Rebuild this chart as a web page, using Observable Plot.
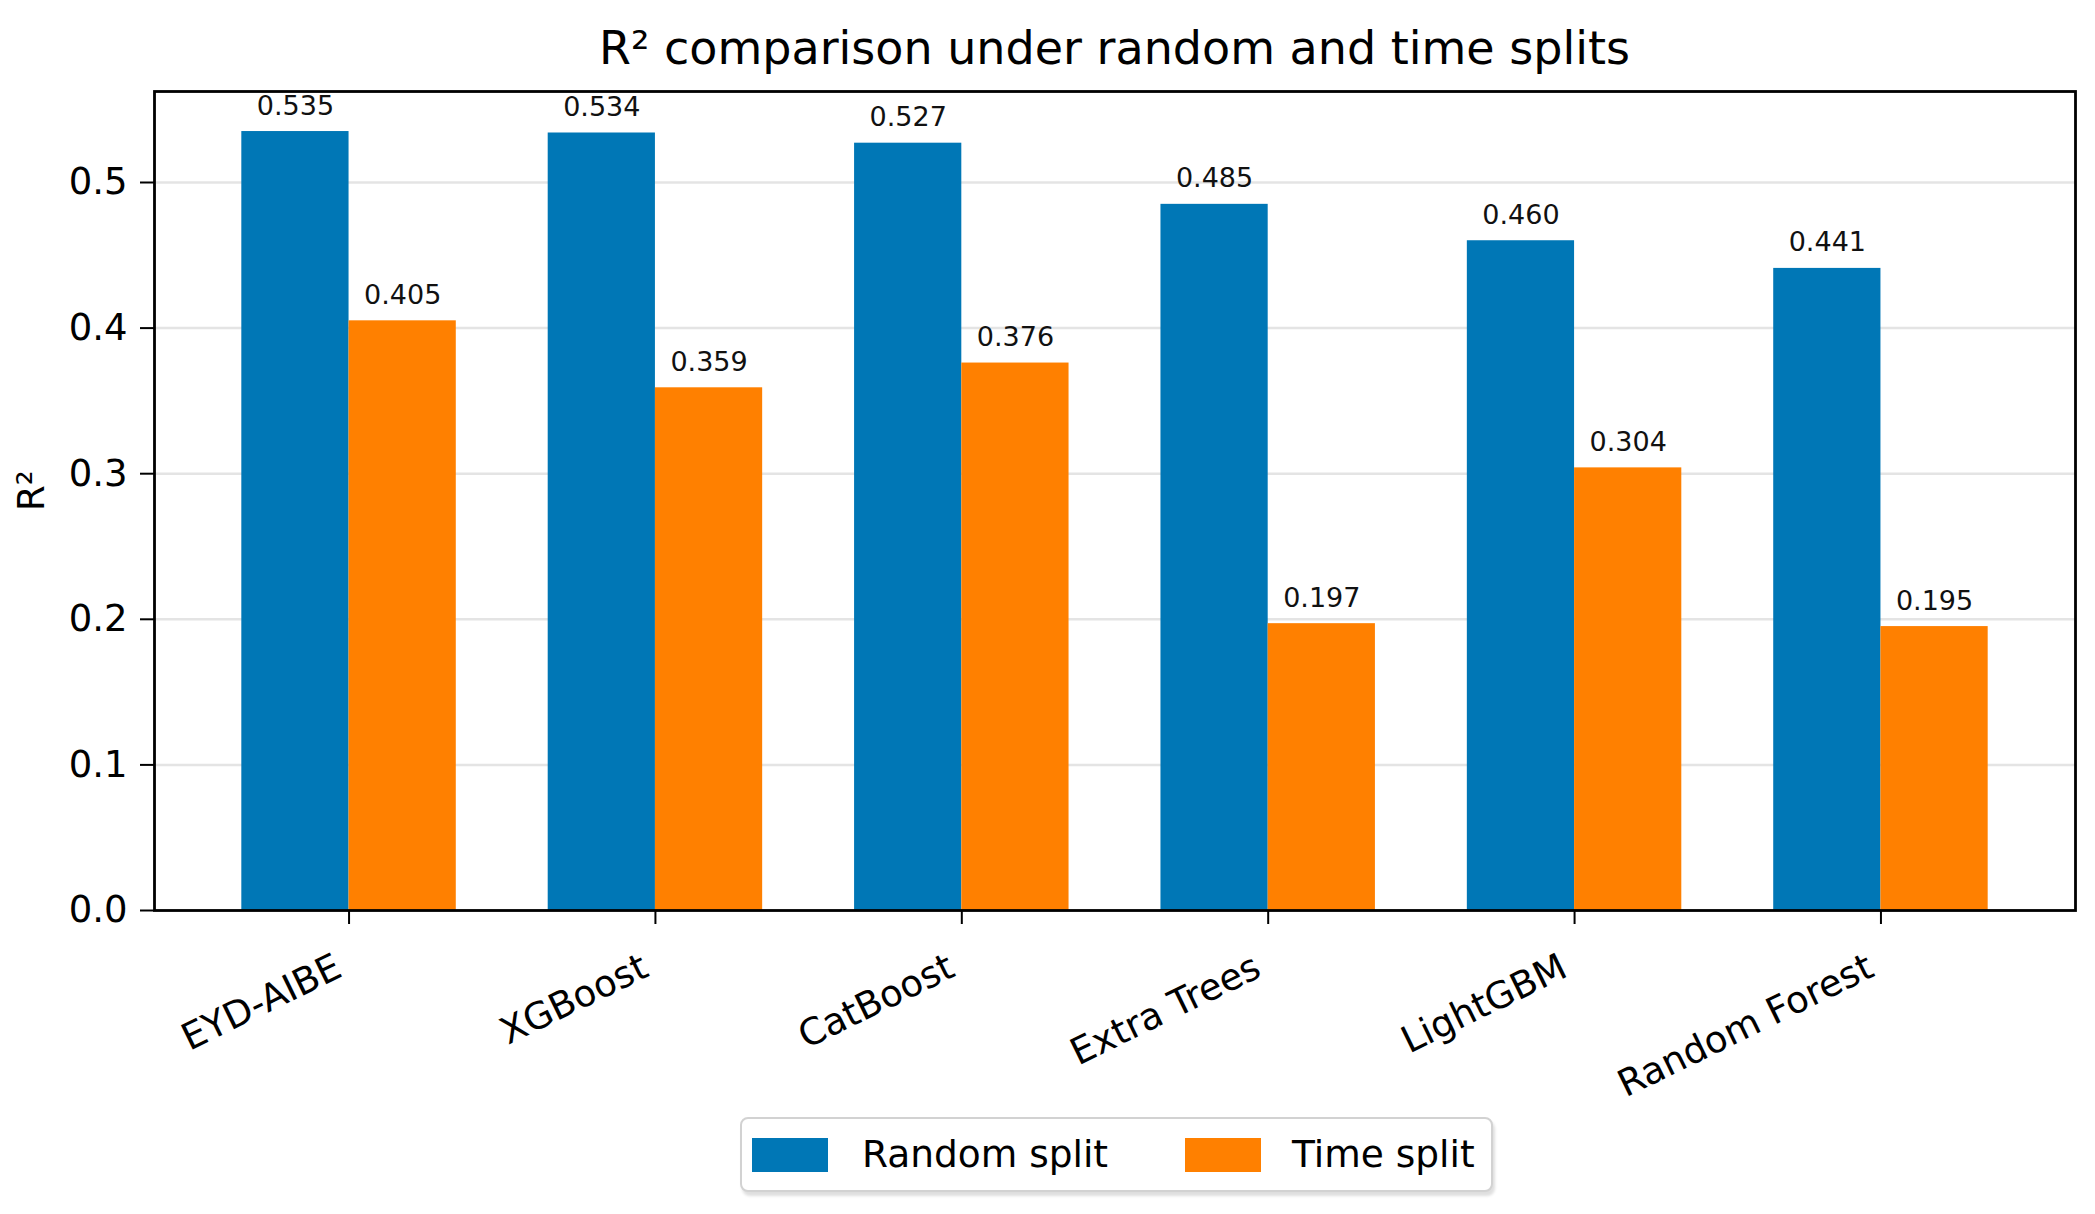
<!DOCTYPE html>
<html>
<head>
<meta charset="utf-8">
<script src="https://cdn.jsdelivr.net/npm/d3@7"></script>
<script src="https://cdn.jsdelivr.net/npm/@observablehq/plot@0.6"></script>
<style>
  html, body { margin: 0; padding: 0; background: #fff; }
  #fig { position: relative; width: 2095px; height: 1214px; font-family: "DejaVu Sans", sans-serif; color: #000; overflow: hidden; }
  #title { position: absolute; left: 154px; width: 1921px; top: 25px; text-align: center; font-size: 46px; line-height: 47px; white-space: nowrap; }
  #chart { position: absolute; left: 0; top: 0; }
  #legend { position: absolute; left: 740px; top: 1117px; width: 753px; height: 75px; box-sizing: border-box;
            border: 2px solid #d2d2d2; border-radius: 8px; box-shadow: 2px 4px 3px rgba(0,0,0,0.13);
            display: flex; align-items: center; padding-left: 10px; background: #fff; }
  .sw { width: 76px; height: 34px; flex: none; }
  .lt { font-size: 37.5px; line-height: 1; white-space: nowrap; }
</style>
</head>
<body>
<div id="fig">
  <div id="chart"></div>
  <div id="title"></div>
  <div id="legend"></div>
</div>
<script>
// ---- data ----
const titleText = "R\u00b2 comparison under random and time splits";
const yLabel = "R\u00b2";
const models = ["EYD-AIBE", "XGBoost", "CatBoost", "Extra Trees", "LightGBM", "Random Forest"];
const randomSplit = [0.535, 0.534, 0.527, 0.485, 0.460, 0.441];
const timeSplit = [0.405, 0.359, 0.376, 0.197, 0.304, 0.195];
const seriesNames = ["Random split", "Time split"];
const seriesColors = ["#0077B6", "#FF8000"];
const yTicks = [0, 0.1, 0.2, 0.3, 0.4, 0.5];

// ---- table ----
const barW = 0.35;
const rows = models.flatMap((m, i) =>
  [randomSplit[i], timeSplit[i]].map((v, s) => ({i, s, model: m, series: seriesNames[s], value: v}))
);

const chart = Plot.plot({
  width: 2095,
  height: 1105,
  marginLeft: 154,
  marginRight: 20,
  marginTop: 91,
  marginBottom: 195,
  style: {fontFamily: "DejaVu Sans", background: "transparent", overflow: "visible", color: "#000"},
  x: {domain: [-0.635, models.length - 1 + 0.635], axis: null},
  y: {domain: [0, 0.5625], axis: null},
  color: {domain: seriesNames, range: seriesColors},
  marks: [
    Plot.gridY(yTicks, {stroke: "#e4e4e4", strokeOpacity: 1, strokeWidth: 2.5}),
    Plot.rectY(rows, {
      x1: d => d.i - barW + d.s * barW,
      x2: d => d.i + d.s * barW,
      y1: 0,
      y2: "value",
      fill: "series"
    }),
    Plot.text(rows, {
      x: d => d.i - barW / 2 + d.s * barW,
      y: "value",
      text: d => d.value.toFixed(3),
      lineAnchor: "bottom",
      dy: -17,
      fontSize: 27,
      fill: "#111"
    }),
    Plot.axisY({ticks: yTicks, tickFormat: ".1f", tickSize: 14, tickPadding: 13, fontSize: 37, strokeWidth: 2, label: null}),
    Plot.axisX({ticks: d3.range(models.length), tickFormat: () => "", tickSize: 14, strokeWidth: 2, label: null}),
    Plot.text(models, {
      x: (d, i) => i,
      frameAnchor: "bottom",
      text: d => d,
      dy: 65,
      dx: -5,
      rotate: -26,
      textAnchor: "end",
      lineAnchor: "bottom",
      fontSize: 37
    }),
    Plot.text([yLabel], {frameAnchor: "left", text: d => d, dx: -122, dy: 10, rotate: -90, fontSize: 37}),
    Plot.frame({stroke: "#000", strokeWidth: 2.8})
  ]
});
document.getElementById("chart").appendChild(chart);
document.getElementById("title").textContent = titleText;

// ---- legend ----
const legend = document.getElementById("legend");
const gaps = [[34, 77], [31, 0]];
seriesNames.forEach((name, k) => {
  const sw = document.createElement("div");
  sw.className = "sw";
  sw.style.background = seriesColors[k];
  const t = document.createElement("span");
  t.className = "lt";
  t.textContent = name;
  t.style.marginLeft = gaps[k][0] + "px";
  t.style.marginRight = gaps[k][1] + "px";
  legend.appendChild(sw);
  legend.appendChild(t);
});
</script>
</body>
</html>
